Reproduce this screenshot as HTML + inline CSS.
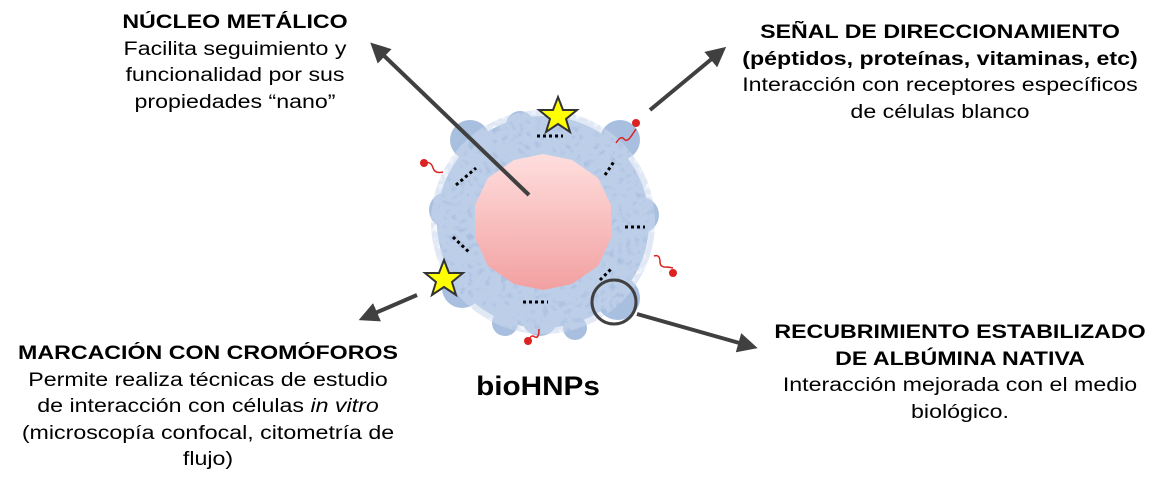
<!DOCTYPE html>
<html><head><meta charset="utf-8"><style>
body{margin:0;width:1173px;height:492px;background:#fff;position:relative;overflow:hidden;font-family:"Liberation Sans",Arial,sans-serif;color:#000}
.t{position:absolute;text-align:center;font-size:19px;line-height:26.5px;transform:scaleX(1.22);transform-origin:50% 0}
.t b{font-weight:bold}
</style></head><body>
<svg width="1173" height="492" style="position:absolute;left:0;top:0">
<defs>
<linearGradient id="pk" x1="0" y1="0" x2="0" y2="1"><stop offset="0" stop-color="#ffdede"/><stop offset="1" stop-color="#f2a0a0"/></linearGradient>
<marker id="ar" markerWidth="5" markerHeight="5" refX="3" refY="2.5" orient="auto" markerUnits="strokeWidth"><path d="M0,0 L5,2.5 L0,5 z" fill="#404040"/></marker>
<filter id="n"><feTurbulence baseFrequency="0.12" numOctaves="2" seed="3"/><feColorMatrix values="0 0 0 0 0.6  0 0 0 0 0.7  0 0 0 0 0.86  0 0 0 -2.2 1.6"/><feComposite in2="SourceGraphic" operator="in"/></filter>
</defs>
<g fill="#a9bfe0">
<circle cx="543" cy="222" r="106"/>
<circle cx="470" cy="140" r="20"/><circle cx="620" cy="140" r="20"/><circle cx="447" cy="210" r="18"/><circle cx="641" cy="215" r="18"/>
<circle cx="462" cy="288" r="20"/><circle cx="618" cy="298" r="22"/><circle cx="540" cy="318" r="18"/><circle cx="520" cy="125" r="14"/><circle cx="575" cy="328" r="12"/><circle cx="505" cy="323" r="13"/>
</g>
<circle cx="543" cy="222" r="112" fill="#fff" filter="url(#n)" opacity="0.6"/>
<polygon points="543,154 572,160 598,178 611,205 611,238 598,266 572,284 543,290 514,284 488,266 475,238 475,205 488,178 514,160" fill="url(#pk)"/>
<g stroke="#000" stroke-width="3" stroke-dasharray="3,3">
<line x1="537" y1="136" x2="563" y2="136"/><line x1="456" y1="185" x2="476" y2="168"/>
<line x1="605" y1="175" x2="615" y2="160"/><line x1="453" y1="237" x2="470" y2="253"/>
<line x1="625" y1="227" x2="645" y2="227"/><line x1="600" y1="280" x2="612" y2="268"/>
<line x1="523" y1="302" x2="548" y2="302"/>
</g>
<g stroke="#d22" stroke-width="1.5" fill="none">
<path d="M616,143 q5,-8 8,-4 q3,4 8,-4 l4,-6"/><path d="M425,163 q6,-2 8,5 q2,6 10,4"/>
<path d="M654,256 q6,-2 6,6 q0,6 8,5 l5,1"/><path d="M529,340 q2,-6 6,-3 q4,2 4,-8"/>
</g>
<g fill="#d22"><circle cx="636" cy="123" r="4"/><circle cx="424" cy="163" r="4"/><circle cx="673" cy="273" r="4"/><circle cx="528" cy="341" r="4"/></g>
<g fill="#ff0" stroke="#333" stroke-width="2">
<polygon points="558,97 563,110 577,110 566,119 570,132 558,124 546,132 550,119 539,110 553,110"/>
<polygon points="444,260 449,273 463,273 452,282 456,295 444,287 432,295 436,282 425,273 439,273"/>
</g>
<circle cx="614" cy="302" r="22" fill="none" stroke="#404040" stroke-width="3"/>
<g stroke="#404040" stroke-width="4" fill="none" marker-end="url(#ar)">
<line x1="529" y1="195" x2="376" y2="48"/>
<line x1="650" y1="110" x2="720" y2="52"/>
<line x1="417" y1="295" x2="366" y2="317"/>
<line x1="637" y1="314" x2="750" y2="346"/>
</g>
</svg>
<div class="t" style="left:85px;top:10px;width:300px"><b>NÚCLEO METÁLICO</b><br>Facilita seguimiento y<br>funcionalidad por sus<br>propiedades “nano”</div>
<div class="t" style="left:710px;top:20px;width:460px"><b>SEÑAL DE DIRECCIONAMIENTO<br>(péptidos, proteínas, vitaminas, etc)</b><br>Interacción con receptores específicos<br>de células blanco</div>
<div class="t" style="left:-20px;top:341px;width:456px"><b>MARCACIÓN CON CROMÓFOROS</b><br>Permite realiza técnicas de estudio<br>de interacción con células <i>in vitro</i><br>(microscopía confocal, citometría de<br>flujo)</div>
<div class="t" style="left:740px;top:320px;width:440px"><b>RECUBRIMIENTO ESTABILIZADO<br>DE ALBÚMINA NATIVA</b><br>Interacción mejorada con el medio<br>biológico.</div>
<div class="t" style="left:448px;top:373px;width:180px;font-size:27px;font-weight:bold;transform:scaleX(1.1)">bioHNPs</div>
</body></html>
